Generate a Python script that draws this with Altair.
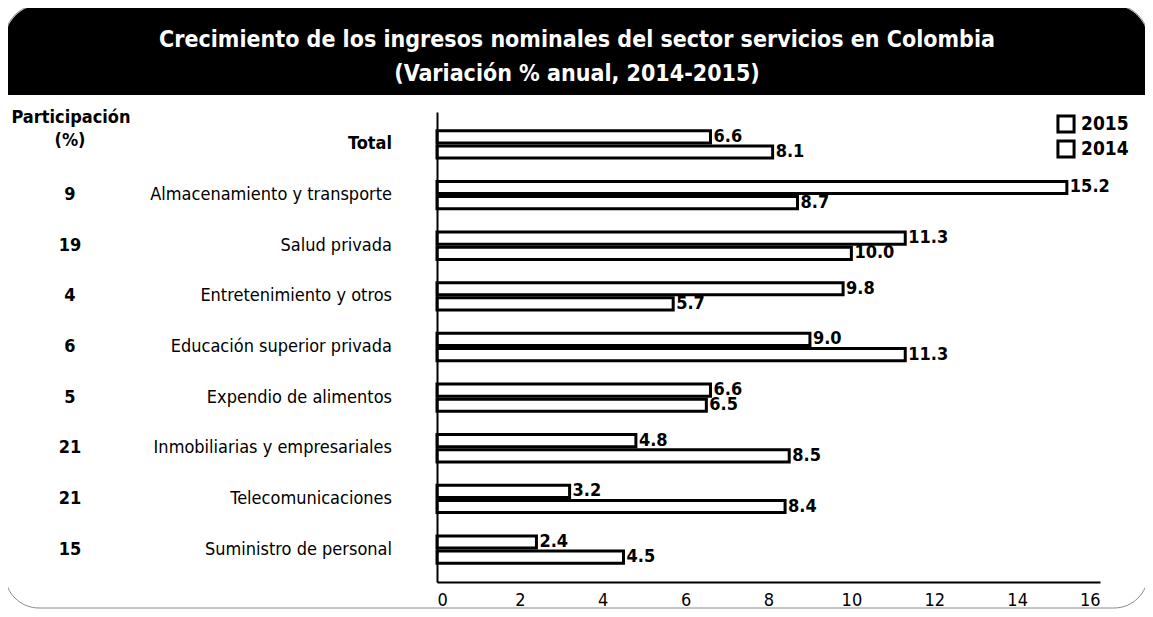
import altair as alt
import pandas as pd

categories = ["Total", "Almacenamiento y transporte", "Salud privada", "Entretenimiento y otros",
              "Educación superior privada", "Expendio de alimentos", "Inmobiliarias y empresariales",
              "Telecomunicaciones", "Suministro de personal"]
participacion = ["", "9", "19", "4", "6", "5", "21", "21", "15"]
v2015 = [6.6, 15.2, 11.3, 9.8, 9.0, 6.6, 4.8, 3.2, 2.4]
v2014 = [8.1, 8.7, 10.0, 5.7, 11.3, 6.5, 8.5, 8.4, 4.5]
years = ["2015", "2014"]
x_ticks = [0, 2, 4, 6, 8, 10, 12, 14, 16]
title_lines = ["Crecimiento de los ingresos nominales del sector servicios en Colombia",
               "(Variación % anual, 2014-2015)"]

FONT = "DejaVu Sans Condensed"
TOP = 104  # plot top offset inside the view (screen y = TOP + 8)

rows = []
for c, a, b in zip(categories, v2015, v2014):
    rows.append({"cat": c, "year": "2015", "value": a, "label": f"{a:.1f}"})
    rows.append({"cat": c, "year": "2014", "value": b, "label": f"{b:.1f}"})
df = pd.DataFrame(rows)
cat_df = pd.DataFrame({"cat": categories, "part": participacion,
                       "bold": [c == "Total" for c in categories]})

yscale = alt.Scale(domain=categories, paddingInner=0.4, paddingOuter=0.34)
yoff_scale = alt.Scale(domain=years, paddingInner=0.2, paddingOuter=0.1)
Y = alt.Y("cat:N", scale=yscale, sort=categories,
          axis=alt.Axis(labels=False, ticks=False, title=None, domainColor="black",
                        domainWidth=2, zindex=1))
YO = alt.YOffset("year:N", scale=yoff_scale, sort=years)

one = alt.Data(values=[{"a": 1}])


def sy(screen_y):
    return screen_y - (TOP + 8)


def sx(screen_x):
    return screen_x - 437


border = alt.Chart(one).mark_rect(fill="white", stroke="#8a8a8a", strokeWidth=1, cornerRadius=34).encode(
    x=alt.value(sx(5)), x2=alt.value(sx(1148)), y=alt.value(sy(5)), y2=alt.value(sy(608)))
banner = alt.Chart(one).mark_rect(fill="black", cornerRadiusTopLeft=36, cornerRadiusTopRight=36).encode(
    x=alt.value(sx(5)), x2=alt.value(sx(1148)), y=alt.value(sy(5)), y2=alt.value(sy(95)))
t1 = alt.Chart(one).mark_text(text=title_lines[0], color="white", font=FONT, fontSize=23,
                              fontWeight="bold", align="center", baseline="middle").encode(
    x=alt.value(sx(577)), y=alt.value(sy(40)))
t2 = alt.Chart(one).mark_text(text=title_lines[1], color="white", font=FONT, fontSize=23,
                              fontWeight="bold", align="center", baseline="middle").encode(
    x=alt.value(sx(577)), y=alt.value(sy(74)))
h1 = alt.Chart(one).mark_text(text="Participación", color="black", font=FONT, fontSize=18,
                              fontWeight="bold", align="center", baseline="middle").encode(
    x=alt.value(sx(71)), y=alt.value(sy(118)))
h2 = alt.Chart(one).mark_text(text="(%)", color="black", font=FONT, fontSize=18,
                              fontWeight="bold", align="center", baseline="middle").encode(
    x=alt.value(sx(70)), y=alt.value(sy(141)))

bars = alt.Chart(df).mark_bar(stroke="black", strokeWidth=3).encode(
    x=alt.X("value:Q", scale=alt.Scale(domain=[0, 16], nice=False),
            axis=alt.Axis(values=x_ticks, title=None, grid=False, ticks=False, labelFont=FONT,
                          labelFontSize=18, labelColor="black", labelPadding=9,
                          domainColor="black", domainWidth=2, zindex=1)),
    y=Y, yOffset=YO,
    fill=alt.Fill("year:N", scale=alt.Scale(domain=years, range=["white", "white"]),
                  legend=alt.Legend(orient="none", legendX=sx(1056), legendY=sy(114), title=None,
                                    symbolType="square", symbolSize=260, symbolStrokeColor="black",
                                    symbolStrokeWidth=3, symbolFillColor="white",
                                    labelFont=FONT, labelFontSize=19, labelFontWeight="bold",
                                    labelColor="black", rowPadding=-5, labelOffset=5)),
)
vals = alt.Chart(df).mark_text(font=FONT, fontSize=18, fontWeight="bold", align="left",
                               baseline="middle", dx=3, color="black").encode(
    x="value:Q", y=Y, yOffset=YO, text="label:N")
cat_bold = alt.Chart(cat_df).transform_filter("datum.bold").mark_text(
    font=FONT, fontSize=18, fontWeight="bold", align="right", baseline="middle", color="black").encode(
    x=alt.value(sx(392)), y=Y, text="cat:N")
cat_norm = alt.Chart(cat_df).transform_filter("!datum.bold").mark_text(
    font=FONT, fontSize=18, align="right", baseline="middle", color="black").encode(
    x=alt.value(sx(392)), y=Y, text="cat:N")
part_labels = alt.Chart(cat_df).mark_text(font=FONT, fontSize=18, fontWeight="bold", align="center",
                                          baseline="middle", color="black").encode(
    x=alt.value(sx(70)), y=Y, text="part:N")

chart = alt.layer(border, banner, t1, t2, h1, h2, bars, vals, cat_bold, cat_norm, part_labels).properties(
    width=663, height=470,
    autosize=alt.AutoSizeParams(type="none"),
    padding={"left": 429, "top": TOP, "right": 45, "bottom": 27},
    background="white",
).configure_view(stroke=None)

chart.save("out.html", embed_options={"renderer": "svg", "actions": False})
